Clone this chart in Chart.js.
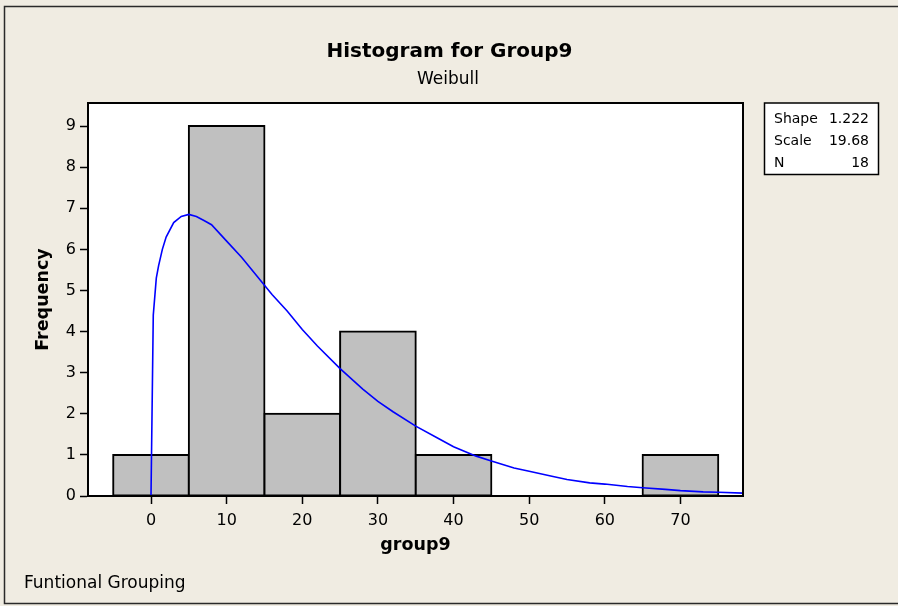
<!DOCTYPE html>
<html><head><meta charset="utf-8">
<script src="https://cdn.jsdelivr.net/npm/chart.js@4/dist/chart.umd.min.js"></script>
<style>html,body{margin:0;padding:0;background:#F0ECE2;overflow:hidden}#wrap{width:898px;height:606px}</style>
</head><body><div id="wrap"><canvas id="c" width="898" height="606"></canvas></div>
<script>
const binCenters = [0, 10, 20, 30, 40, 50, 60, 70];
const binCounts  = [1, 9, 2, 4, 1, 0, 0, 1];
const curveX = [0, 0.3, 0.7, 1, 1.5, 2, 3, 4, 5, 6, 7, 8, 10, 12, 14, 16, 18, 20, 22, 25, 28, 30, 32, 35, 38, 40, 43, 45, 48, 50, 53, 55, 58, 60, 63, 65, 68, 70, 73, 75, 78.3];
const curveY = [0, 4.4, 5.3, 5.6, 6.0, 6.3, 6.65, 6.8, 6.85, 6.8, 6.7, 6.6, 6.2, 5.8, 5.35, 4.9, 4.5, 4.05, 3.65, 3.1, 2.6, 2.3, 2.05, 1.7, 1.4, 1.2, 0.97, 0.85, 0.68, 0.6, 0.48, 0.4, 0.32, 0.29, 0.23, 0.2, 0.16, 0.13, 0.1, 0.09, 0.07];
const xTicks = [0, 10, 20, 30, 40, 50, 60, 70];
const yTicks = [0, 1, 2, 3, 4, 5, 6, 7, 8, 9];
const titleText = 'Histogram for Group9';
const subtitleText = 'Weibull';
const footerText = 'Funtional Grouping';
const fitLabels = ['Shape', 'Scale', 'N'];
const fitValues = ['1.222', '19.68', '18'];

const FONT = "'DejaVu Sans', sans-serif";
const BG = '#F0ECE2';
Chart.defaults.font.family = FONT;
Chart.defaults.color = '#000';

const deco = {
  id: 'deco',
  beforeDraw(chart) {
    const {ctx, chartArea: a} = chart;
    ctx.save();
    ctx.fillStyle = BG;
    ctx.fillRect(0, 0, chart.width, chart.height);
    ctx.fillStyle = '#fff';
    ctx.fillRect(a.left, a.top, a.right - a.left, a.bottom - a.top);
    ctx.restore();
  },
  afterDraw(chart) {
    const {ctx, chartArea: a} = chart;
    ctx.save();
    // plot border
    ctx.strokeStyle = '#000';
    ctx.lineWidth = 2;
    ctx.strokeRect(a.left, a.top, a.right - a.left, a.bottom - a.top);
    // outer frame
    ctx.strokeStyle = '#2a2a2a';
    ctx.lineWidth = 1.5;
    ctx.strokeRect(4.5, 6.5, 900, 597);
    // title
    ctx.fillStyle = '#000';
    ctx.textAlign = 'center';
    ctx.textBaseline = 'alphabetic';
    ctx.font = "bold 20px " + FONT;
    ctx.fillText(titleText, 449.5, 56.5);
    ctx.font = "17px " + FONT;
    ctx.fillText(subtitleText, 448, 84);
    // footer
    ctx.textAlign = 'left';
    ctx.font = "17px " + FONT;
    ctx.fillText(footerText, 24, 587.5);
    // fit box
    ctx.fillStyle = '#fff';
    ctx.fillRect(764.5, 103, 114, 71.5);
    ctx.strokeStyle = '#000';
    ctx.lineWidth = 1.5;
    ctx.strokeRect(764.5, 103, 114, 71.5);
    ctx.fillStyle = '#000';
    ctx.font = "14px " + FONT;
    const bases = [123.3, 145, 166.7];
    for (let i = 0; i < fitLabels.length; i++) {
      ctx.textAlign = 'left';
      ctx.fillText(fitLabels[i], 774, bases[i]);
      ctx.textAlign = 'right';
      ctx.fillText(fitValues[i], 869, bases[i]);
    }
    ctx.restore();
  }
};

new Chart(document.getElementById('c'), {
  type: 'bar',
  data: {
    datasets: [
      {
        type: 'line',
        data: curveX.map((x, i) => ({x: x, y: curveY[i]})),
        borderColor: '#0000FF',
        borderWidth: 1.6,
        pointRadius: 0,
        tension: 0,
        fill: false,
        order: 0
      },
      {
        type: 'bar',
        data: binCenters.map((x, i) => ({x: x, y: binCounts[i]})),
        backgroundColor: '#C0C0C0',
        borderColor: '#000',
        borderWidth: 2,
        inflateAmount: 1,
        borderSkipped: false,
        barPercentage: 1,
        categoryPercentage: 1,
        order: 1
      }
    ]
  },
  options: {
    responsive: false,
    animation: false,
    devicePixelRatio: 1,
    layout: {padding: {left: 0, top: 103, right: 155, bottom: 0}},
    plugins: {legend: {display: false}, tooltip: {enabled: false}, title: {display: false}},
    scales: {
      x: {
        type: 'linear',
        min: -8.33,
        max: 78.27,
        offset: false,
        afterBuildTicks(s) { s.ticks = xTicks.map(v => ({value: v})); },
        afterFit(s) { s.height = 110; },
        grid: {display: true, offset: false, drawOnChartArea: false, drawTicks: true, tickLength: 8, tickColor: '#000', tickWidth: 1.5},
        border: {display: true, color: '#000', width: 2},
        ticks: {font: {size: 16}, color: '#000', padding: 7, maxRotation: 0, autoSkip: false},
        title: {display: true, text: 'group9', font: {size: 17.5, weight: 'bold'}, color: '#000', padding: {top: 0, bottom: 50.5}}
      },
      y: {
        type: 'linear',
        min: 0,
        max: 9.56,
        afterBuildTicks(s) { s.ticks = yTicks.map(v => ({value: v})); },
        afterFit(s) { s.width = 88; },
        grid: {display: true, drawOnChartArea: false, drawTicks: true, tickLength: 8, tickColor: '#000', tickWidth: 1.5},
        border: {display: true, color: '#000', width: 2},
        ticks: {font: {size: 16}, color: '#000', padding: 4, autoSkip: false},
        title: {display: true, text: 'Frequency', font: {size: 17.5, weight: 'bold'}, color: '#000', padding: {top: 32.5, bottom: 0}}
      }
    }
  },
  plugins: [deco]
});
</script>
</body></html>
